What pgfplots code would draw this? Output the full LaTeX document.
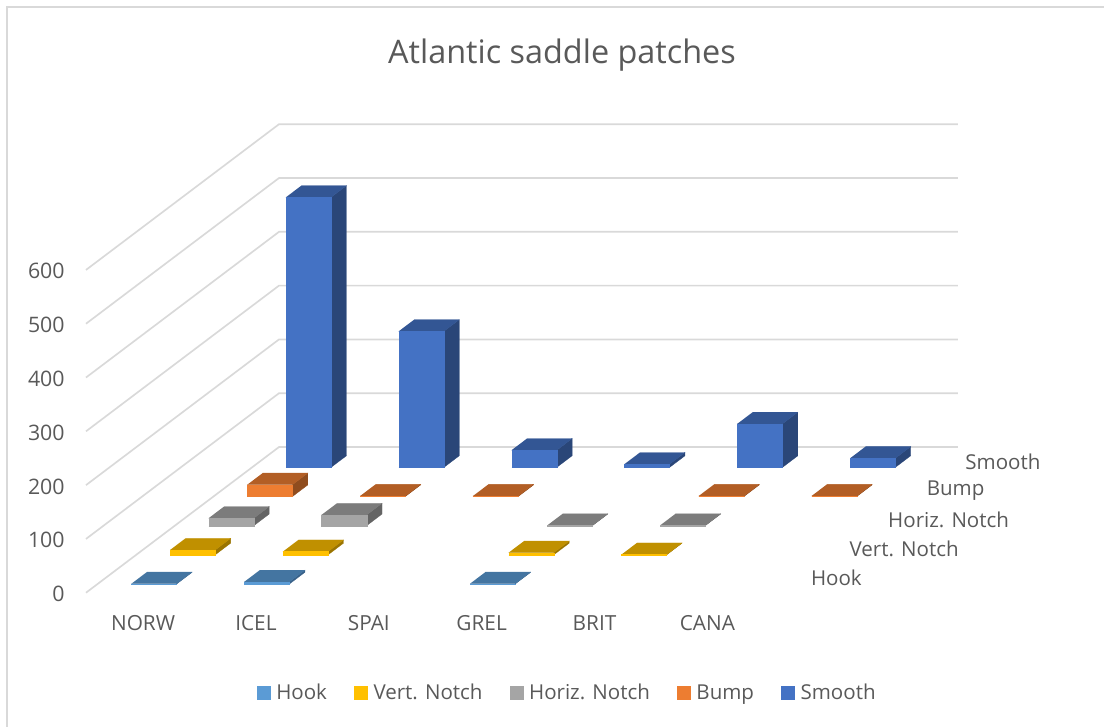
\documentclass[border=0pt]{standalone}
\usepackage{pgfplots}
\pgfplotsset{compat=1.18}
\usepackage{fontspec}
\setmainfont{Open Sans}
\definecolor{txt}{HTML}{595959}
\definecolor{gridc}{HTML}{D9D9D9}
% front, top and side shades of each series
\definecolor{hookF}{HTML}{5B9BD5}\definecolor{hookT}{HTML}{4475A1}\definecolor{hookS}{HTML}{376088}
\definecolor{vertF}{HTML}{FFC000}\definecolor{vertT}{HTML}{C09000}\definecolor{vertS}{HTML}{9A7400}
\definecolor{horiF}{HTML}{A5A5A5}\definecolor{horiT}{HTML}{7C7C7C}\definecolor{horiS}{HTML}{646464}
\definecolor{bumpF}{HTML}{ED7D31}\definecolor{bumpT}{HTML}{B25E25}\definecolor{bumpS}{HTML}{8F4C1E}
\definecolor{smooF}{HTML}{4472C4}\definecolor{smooT}{HTML}{335694}\definecolor{smooS}{HTML}{2A4678}
% one cuboid: category, series, value, colour prefix
\newcommand{\cuboid}[4]{%
  \addplot3[forget plot,draw=#4S,line width=0.2pt,fill=#4S] coordinates {(#1.7,#2.3,0)(#1.7,#2.7,0)(#1.7,#2.7,#3)(#1.7,#2.3,#3)};
  \addplot3[forget plot,draw=#4T,line width=0.2pt,fill=#4T] coordinates {(#1.3,#2.3,#3)(#1.7,#2.3,#3)(#1.7,#2.7,#3)(#1.3,#2.7,#3)};
  \addplot3[forget plot,draw=#4F,line width=0.2pt,fill=#4F] coordinates {(#1.3,#2.3,0)(#1.7,#2.3,0)(#1.7,#2.3,#3)(#1.3,#2.3,#3)};
}
\newcommand{\wall}[1]{%
  \addplot3[forget plot,gridc,line width=1.25pt] coordinates {(0,0,#1)(0,5,#1)(6.015,5,#1)};
}
\begin{document}
\begin{tikzpicture}[x=0.75pt,y=0.75pt]
\useasboundingbox (0,0) rectangle (1104,727);
\draw[gridc,line width=1.3pt] (7,0) -- (7,720) -- (1104,720);
\node[txt,font=\fontsize{24.3}{28}\selectfont] at (562,672) {Atlantic saddle patches};
\begin{axis}[
  at={(64.5pt,100.7pt)},anchor=origin,
  x={(84.64pt,0pt)},y={(28.95pt,21.855pt)},z={(0pt,0.4035pt)},
  xmin=0,xmax=6,ymin=0,ymax=5,zmin=0,zmax=600,
  clip=false,
  axis line style={draw=none},
  major tick length=0pt,
  xtick={0.5,1.5,2.5,3.5,4.5,5.5},
  xticklabels={NORW,ICEL,SPAI,GREL,BRIT,CANA},
  ytick={0.5,1.5,2.5,3.5,4.5},
  yticklabels={Hook,Vert. Notch,Horiz. Notch,Bump,Smooth},
  ztick={0,100,200,300,400,500,600},
  xticklabel pos=lower,yticklabel pos=left,zticklabel pos=left,
  tick label style={txt,font=\fontsize{15.6}{18}\selectfont,/pgf/number format/assume math mode=true},
  xticklabel style={anchor=center,xshift=0.5pt,yshift=-22.7pt},
  yticklabel style={anchor=west,xshift=17.9pt,font=\fontsize{15.4}{18}\selectfont},
  zticklabel style={anchor=east,xshift=-12.5pt,yshift=-1pt,font=\fontsize{16}{18}\selectfont},
  legend columns=5,
  legend style={draw=none,fill=none,at={(0.5535,-0.214)},anchor=center,
    font=\fontsize{15.4}{18}\selectfont,text=txt,
    /tikz/every even column/.append style={column sep=18.4pt}},
  legend image code/.code={\fill[#1] (0pt,-5.2pt) rectangle (10.5pt,5.3pt);\path (12.5pt,0pt);},
]
\addlegendimage{fill=hookF,draw=none}\addlegendentry{Hook}
\addlegendimage{fill=vertF,draw=none}\addlegendentry{Vert. Notch}
\addlegendimage{fill=horiF,draw=none}\addlegendentry{Horiz. Notch}
\addlegendimage{fill=bumpF,draw=none}\addlegendentry{Bump}
\addlegendimage{fill=smooF,draw=none}\addlegendentry{Smooth}
% gridlines on the side and back walls
\wall{0}\wall{100}\wall{200}\wall{300}\wall{400}\wall{500}\wall{600}
% Smooth
\cuboid{0}{4}{502}{smoo}
\cuboid{1}{4}{253}{smoo}
\cuboid{2}{4}{32}{smoo}
\cuboid{3}{4}{6}{smoo}
\cuboid{4}{4}{81}{smoo}
\cuboid{5}{4}{17}{smoo}
% Bump
\cuboid{0}{3}{22}{bump}
\cuboid{1}{3}{1}{bump}
\cuboid{2}{3}{1}{bump}
\cuboid{4}{3}{1}{bump}
\cuboid{5}{3}{1}{bump}
% Horiz. Notch
\cuboid{0}{2}{14}{hori}
\cuboid{1}{2}{20}{hori}
\cuboid{3}{2}{0.5}{hori}
\cuboid{4}{2}{0.5}{hori}
% Vert. Notch
\cuboid{0}{1}{9}{vert}
\cuboid{1}{1}{6}{vert}
\cuboid{3}{1}{4}{vert}
\cuboid{4}{1}{0.5}{vert}
% Hook
\cuboid{0}{0}{0.5}{hook}
\cuboid{1}{0}{4}{hook}
\cuboid{3}{0}{0.5}{hook}
\end{axis}
\end{tikzpicture}
\end{document}
